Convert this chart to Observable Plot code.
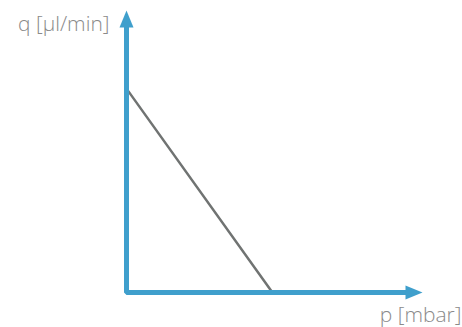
<!DOCTYPE html>
<html><head><meta charset="utf-8">
<script src="https://cdn.jsdelivr.net/npm/d3@7"></script>
<script src="https://cdn.jsdelivr.net/npm/@observablehq/plot@0.6"></script>
<style>body{margin:0;background:#fff;} </style>
</head><body><div id="chart"></div>
<script>
const pressure = [0, 49.3];
const flow = [72.3, 0];
const axisX = [0, 0, 95];
const axisY = [95, 0, 0];
const arrowTips = [{x: 0, y: 100, rot: 0}, {x: 100, y: 0, rot: 90}];
const xLabel = "p [mbar]";
const yLabel = "q [µl/min]";

const lineData = pressure.map((p, i) => ({p, q: flow[i]}));
const axisData = axisX.map((x, i) => ({x, y: axisY[i]}));
const blue = "#3f9fcc";

const tipSymbol = {
  draw(ctx, size) {
    ctx.moveTo(0, 0);
    ctx.lineTo(7, 17);
    ctx.lineTo(-7, 17);
    ctx.closePath();
  }
};

const chart = Plot.plot({
  width: 462, height: 327,
  marginLeft: 126, marginRight: 40, marginTop: 10, marginBottom: 35,
  x: {domain: [0, 100], axis: null},
  y: {domain: [0, 100], axis: null},
  style: {fontFamily: "'Open Sans', sans-serif", background: "#fff"},
  marks: [
    Plot.line(lineData, {x: "p", y: "q", stroke: "#707372", strokeWidth: 2.5}),
    Plot.line(axisData, {x: "x", y: "y", stroke: blue, strokeWidth: 5, strokeLinejoin: "miter", strokeLinecap: "butt"}),
    Plot.dot(arrowTips, {x: "x", y: "y", symbol: tipSymbol, r: 5, fill: blue, stroke: "none", rotate: "rot"}),
    Plot.text([yLabel], {x: 0, y: 100, text: d => d, textAnchor: "end", lineAnchor: "middle", dx: -17, dy: 14, fontSize: 21, fontWeight: 300, fill: "#8a8a8a"}),
    Plot.text([xLabel], {x: 100, y: 0, text: d => d, textAnchor: "end", lineAnchor: "middle", dx: 39, dy: 23, fontSize: 21, fontWeight: 300, fill: "#8a8a8a"})
  ]
});
document.getElementById("chart").appendChild(chart);
</script>
</body></html>
